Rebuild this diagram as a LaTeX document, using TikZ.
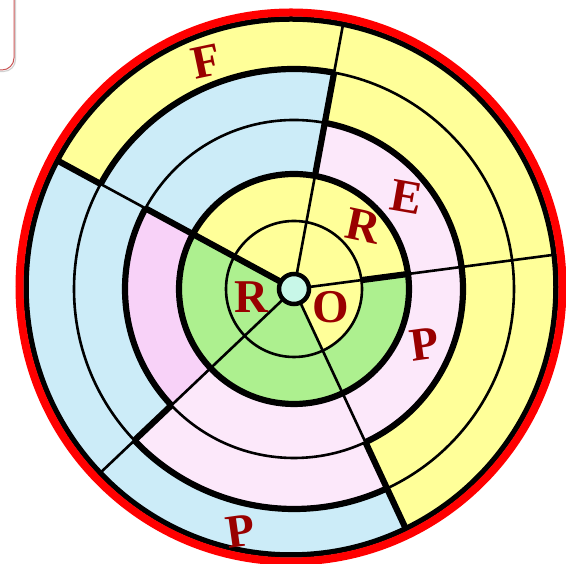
\documentclass[tikz,border=0pt]{standalone}
\usepackage{fontspec}
\setmainfont{Liberation Serif}
\begin{document}
\begin{tikzpicture}[x=1pt,y=1pt,
  thinl/.style={line width=2.6pt,draw=black},
  thickl/.style={line width=6.2pt,draw=black},
  letter/.style={text=letcol,font=\fontsize{47}{47}\selectfont\bfseries,inner sep=0pt,anchor=center}]
\definecolor{cy}{RGB}{255,255,153}
\definecolor{cb}{RGB}{204,236,248}
\definecolor{cg}{RGB}{173,240,143}
\definecolor{clp}{RGB}{252,232,250}
\definecolor{cp}{RGB}{248,210,248}
\definecolor{cmint}{RGB}{200,247,232}
\definecolor{letcol}{RGB}{153,0,0}
\definecolor{boxcol}{RGB}{200,85,85}
\useasboundingbox (0,0) rectangle (566,564);
% top-left box corner
\draw[gray!35,line width=1.2pt,rounded corners=12pt] (-20,600) -- (15.5,600) -- (15.5,492.5) -- (-20,492.5);
\draw[boxcol,line width=1pt,rounded corners=12pt] (-20,600) -- (14,600) -- (14,494) -- (-20,494);
\coordinate (O) at (294,275);
\coordinate (E) at (291,277);
\begin{scope}
\clip (E) ellipse [x radius=265, y radius=268];
\begin{scope}[shift={(294,275)}]
% ring 0
\fill[cy] (0,0) -- (7.5:68) arc[start angle=7.5,end angle=151.5,radius=68] -- cycle;
\fill[cg] (0,0) -- (151.5:68) arc[start angle=151.5,end angle=295,radius=68] -- cycle;
\fill[cy] (0,0) -- (295:68) arc[start angle=295,end angle=367.5,radius=68] -- cycle;
% helper
\def\sct#1#2#3#4#5{\fill[#1] (#2:#4) arc[start angle=#2,end angle=#3,radius=#4] -- (#3:#5) arc[start angle=#3,end angle=#2,radius=#5] -- cycle;}
% ring 1
\sct{cy}{7.5}{151.5}{68}{115}
\sct{cg}{151.5}{367.5}{68}{115}
% ring 2
\sct{clp}{7.5}{79.5}{115}{169}
\sct{cb}{79.5}{151.5}{115}{169}
\sct{cp}{151.5}{223.5}{115}{169}
\sct{clp}{223.5}{367.5}{115}{169}
% ring 3
\sct{cy}{7.5}{79.5}{169}{220}
\sct{cb}{79.5}{223.5}{169}{220}
\sct{clp}{223.5}{295}{169}{220}
\sct{cy}{295}{367.5}{169}{220}
% ring 4
\sct{cy}{7.5}{151.5}{220}{320}
\sct{cb}{151.5}{295}{220}{320}
\sct{cy}{295}{367.5}{220}{320}
% circles
\draw[thinl] (0,0) circle[radius=68];
\draw[thickl] (0,0) circle[radius=115];
\draw[thinl] (0,0) circle[radius=169];
\draw[thinl] (0,0) circle[radius=220];
\draw[thickl] (7.5:169) arc[start angle=7.5,end angle=79.5,radius=169];
\draw[thickl] (151.5:169) arc[start angle=151.5,end angle=223.5,radius=169];
\draw[thickl] (295:169) arc[start angle=295,end angle=367.5,radius=169];
\draw[thickl] (79.5:220) arc[start angle=79.5,end angle=151.5,radius=220];
\draw[thickl] (223.5:220) arc[start angle=223.5,end angle=295,radius=220];
% radials
\draw[thinl] (79.5:14) -- (79.5:115); \draw[thickl] (79.5:115) -- (79.5:220); \draw[thinl] (79.5:220) -- (79.5:320);
\draw[thinl] (7.5:14) -- (7.5:68); \draw[thickl] (7.5:68) -- (7.5:115); \draw[thinl] (7.5:115) -- (7.5:320);
\draw[thinl] (295:14) -- (295:169); \draw[thickl] (295:169) -- (295:320);
\draw[thinl] (223.5:14) -- (223.5:169); \draw[thickl] (223.5:169) -- (223.5:220); \draw[thinl] (223.5:220) -- (223.5:320);
\draw[thickl] (151.5:14) -- (151.5:169); \draw[thinl] (151.5:169) -- (151.5:220); \draw[thickl] (151.5:220) -- (151.5:320);
\end{scope}
\end{scope}
% centre
\draw[fill=cmint,line width=4.5pt] (O) circle[radius=15];
% outer rings
\draw[line width=5.5pt] (E) ellipse [x radius=265, y radius=268];
\draw[red,line width=8pt] (E) ellipse [x radius=271.5, y radius=274.5];
% letters
\node[letter,rotate=12] (lF) at (206,503) {F};
\node[letter,rotate=-10] (lE) at (407,367) {E};
\node[letter,rotate=-12] (lR1) at (363,338) {R};
\node[letter] (lR2) at (251,267) {R};
\node[letter] (lO) at (331,257) {O};
\node[letter,rotate=8] (lP1) at (425,220) {P};
\node[letter,rotate=8] (lP2) at (241,33) {P};
\end{tikzpicture}
\end{document}
